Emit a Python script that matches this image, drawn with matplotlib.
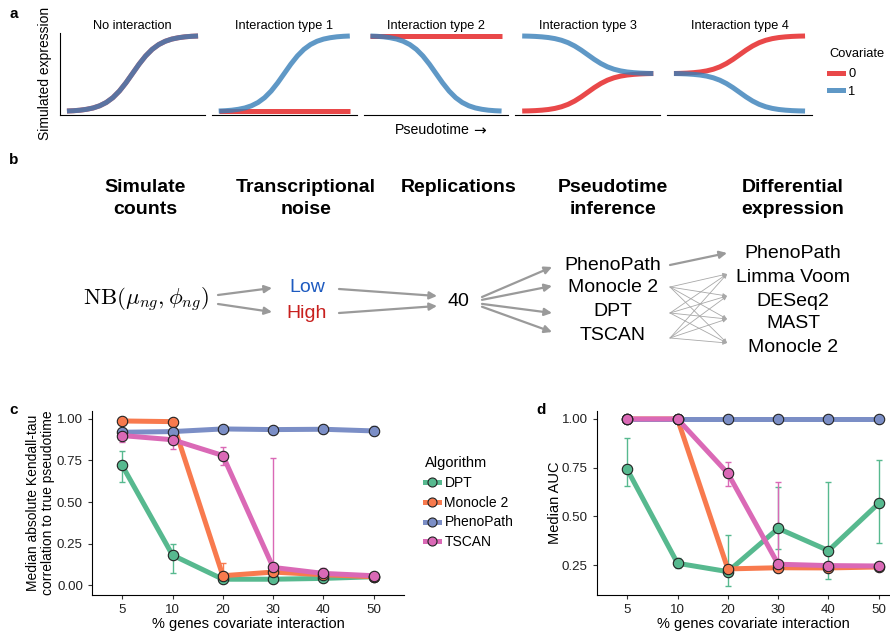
import matplotlib
matplotlib.use('Agg')
import matplotlib.pyplot as plt
from matplotlib.lines import Line2D

plt.rcParams['font.family'] = ['Liberation Sans', 'DejaVu Sans']

# ---- panel a: schematic expression curves ----
a_titles = ['No interaction', 'Interaction type 1', 'Interaction type 2',
            'Interaction type 3', 'Interaction type 4']
pseudotime = [0.0, 0.05, 0.1, 0.15, 0.2, 0.25, 0.3, 0.35, 0.4, 0.45, 0.5,
              0.55, 0.6, 0.65, 0.7, 0.75, 0.8, 0.85, 0.9, 0.95, 1.0]
rise = [0.0, 0.004, 0.011, 0.023, 0.041, 0.070, 0.114, 0.178, 0.266, 0.376, 0.5,
        0.624, 0.734, 0.822, 0.886, 0.930, 0.959, 0.977, 0.989, 0.996, 1.0]
# (start level, end level) for covariate 0 and covariate 1
cov0_levels = [(0, 1), (0, 0), (1, 1), (0, 0.5), (0.5, 1)]
cov1_levels = [(0, 1), (0, 1), (1, 0), (1, 0.5), (0.5, 0)]
cov_labels = ['0', '1']
cov_colors = ['#E41A1C', '#377EB8']

# ---- panel b: pipeline ----
b_headers = ['Simulate\ncounts', 'Transcriptional\nnoise', 'Replications',
             'Pseudotime\ninference', 'Differential\nexpression']
noise_levels = ['Low', 'High']
n_reps = 40
pt_methods = ['PhenoPath', 'Monocle 2', 'DPT', 'TSCAN']
de_methods = ['PhenoPath', 'Limma Voom', 'DESeq2', 'MAST', 'Monocle 2']

# ---- panels c, d: benchmark ----
pct = ['5', '10', '20', '30', '40', '50']
algos = ['DPT', 'Monocle 2', 'PhenoPath', 'TSCAN']
algo_colors = ['#57B98F', '#F87A4E', '#7B8EC6', '#DA69B6']

tau_med = [[0.72, 0.18, 0.035, 0.035, 0.04, 0.05],
           [0.988, 0.984, 0.056, 0.078, 0.062, 0.05],
           [0.92, 0.924, 0.94, 0.936, 0.938, 0.928],
           [0.90, 0.875, 0.78, 0.106, 0.07, 0.056]]
tau_lo = [[0.62, 0.07, 0.03, 0.03, 0.03, 0.04],
          [0.985, 0.98, 0.04, 0.06, 0.05, 0.04],
          [0.905, 0.91, 0.925, 0.925, 0.915, 0.905],
          [0.86, 0.82, 0.72, 0.03, 0.04, 0.035]]
tau_hi = [[0.81, 0.25, 0.045, 0.045, 0.05, 0.07],
          [0.99, 0.99, 0.13, 0.095, 0.075, 0.06],
          [0.935, 0.935, 0.955, 0.945, 0.965, 0.96],
          [0.93, 0.90, 0.83, 0.763, 0.10, 0.07]]

auc_med = [[0.741, 0.259, 0.216, 0.438, 0.324, 0.567],
           [1.0, 1.0, 0.23, 0.236, 0.235, 0.24],
           [1.0, 1.0, 1.0, 1.0, 1.0, 1.0],
           [1.0, 1.0, 0.721, 0.254, 0.247, 0.245]]
auc_lo = [[0.658, 0.233, 0.142, 0.331, 0.18, 0.365],
          [1.0, 1.0, 0.23, 0.236, 0.235, 0.24],
          [1.0, 1.0, 1.0, 1.0, 1.0, 1.0],
          [1.0, 1.0, 0.656, 0.245, 0.247, 0.245]]
auc_hi = [[0.902, 0.288, 0.406, 0.652, 0.678, 0.789],
          [1.0, 1.0, 0.23, 0.236, 0.235, 0.24],
          [1.0, 1.0, 1.0, 1.0, 1.0, 1.0],
          [1.0, 1.0, 0.78, 0.675, 0.247, 0.245]]

W, H = 890, 634
fig = plt.figure(figsize=(W / 100, H / 100), dpi=100)


def px_axes(left, top, right, bottom):
    return fig.add_axes([left / W, 1 - bottom / H, (right - left) / W, (bottom - top) / H])


# panel a
for i, title in enumerate(a_titles):
    x0 = 60 + i * 151.75
    ax = px_axes(x0, 33, x0 + 145, 115)
    for lv, col in zip([cov0_levels[i], cov1_levels[i]], cov_colors):
        s, e = lv
        ax.plot(pseudotime, [s + (e - s) * r for r in rise], color=col, alpha=0.8,
                lw=3.6, solid_capstyle='butt', solid_joinstyle='round')
    ax.set_xlim(-0.053, 1.053)
    ax.set_ylim(-0.053, 1.04)
    ax.set_xticks([])
    ax.set_yticks([])
    for sp in ['top', 'right']:
        ax.spines[sp].set_visible(False)
    if i > 0:
        ax.spines['left'].set_visible(False)
    ax.set_title(title, fontsize=9.2, pad=3)

fig.text(45 / W, 1 - 73 / H, 'Simulated expression', rotation=90, ha='center',
         va='center', fontsize=10)
fig.text(470 / W, 1 - 130 / H, 'Pseudotime', ha='right', va='center', fontsize=10.2)
fig.text(473 / W, 1 - 131 / H, '→', ha='left', va='center', fontsize=11,
         family='DejaVu Sans')
cov_handles = [Line2D([], [], color=c, alpha=0.8, lw=3.6) for c in cov_colors]
leg = fig.legend(cov_handles, cov_labels, title='Covariate', loc='upper left',
                 bbox_to_anchor=(829 / W, 1 - 48 / H), frameon=False, fontsize=9.3,
                 title_fontsize=9.3, handlelength=1.1, handletextpad=0.4,
                 labelspacing=0.4, borderpad=0, borderaxespad=0)
leg._legend_box.align = 'left'
leg._legend_box.sep = 6

# panel b
axb = fig.add_axes([0, 0, 1, 1])
axb.axis('off')
axb.set_xlim(0, W)
axb.set_ylim(H, 0)
axb.patch.set_alpha(0)

header_x = [145, 306, 459, 613, 793]
for x, t in zip(header_x, b_headers):
    axb.text(x, 179, t, ha='center', va='top', fontsize=14, fontweight='bold',
             linespacing=1.35)

axb.text(146, 300, r'$\mathrm{NB}(\mu_{ng},\phi_{ng})$', ha='center', va='center',
         fontsize=16.5, math_fontfamily='cm')
noise_y = [288, 313]
noise_colors = ['#1E5BC0', '#C8201E']
for y, t, c in zip(noise_y, noise_levels, noise_colors):
    axb.text(307, y, t, ha='center', va='center', fontsize=14, color=c)
axb.text(458, 301, str(n_reps), ha='center', va='center', fontsize=14)

pt_y = [265, 288, 312, 336]
for y, t in zip(pt_y, pt_methods):
    axb.text(613, y, t, ha='center', va='center', fontsize=14)
de_y = [253, 277, 301, 324, 348]
for y, t in zip(de_y, de_methods):
    axb.text(793, y, t, ha='center', va='center', fontsize=14)

thick = dict(arrowstyle='-|>', color='#9a9a9a', lw=1.6, mutation_scale=11,
             shrinkA=0, shrinkB=0)
thin = dict(arrowstyle='-|>', color='#a8a8a8', lw=0.6, mutation_scale=6,
            shrinkA=0, shrinkB=0)


def arrow(x1, y1, x2, y2, props):
    axb.annotate('', xy=(x2, y2), xytext=(x1, y1), arrowprops=props)


arrow(218, 295, 272, 288, thick)
arrow(218, 304, 272, 312, thick)
arrow(339, 289, 437, 296, thick)
arrow(339, 313, 437, 306, thick)
for y in [267, 286, 313, 332]:
    arrow(482, 297 + (y - 267) * 0.15, 552, y, thick)
arrow(670, 265, 727, 253, thick)
for ys in [287, 313, 338]:
    for yt in [274, 296, 319, 343]:
        arrow(670, ys, 727, yt, thin)

# panels c and d


def bench_panel(ax, med, lo, hi):
    xs = list(range(len(pct)))
    for m, l, h, c in zip(med, lo, hi, algo_colors):
        ax.errorbar(xs, m, yerr=[[a - b for a, b in zip(m, l)], [b - a for a, b in zip(m, h)]],
                    fmt='none', ecolor=c, elinewidth=1, capsize=2.5, capthick=1, zorder=2)
    for m, c in zip(med, algo_colors):
        ax.plot(xs, m, color=c, lw=3.6, zorder=3, solid_capstyle='butt')
    for m, c in zip(med, algo_colors):
        ax.plot(xs, m, 'o', ls='none', mfc=c, mec='#222222', mew=0.8, ms=7.5, zorder=4)
    ax.set_xticks(xs)
    ax.set_xticklabels(pct)
    ax.set_xlim(-0.6, 5.6)
    for sp in ['top', 'right']:
        ax.spines[sp].set_visible(False)
    ax.tick_params(labelsize=9.6, length=3, colors='#333333', labelcolor='#222222')
    ax.set_xlabel('% genes covariate interaction', fontsize=10.5, labelpad=1)


axc = px_axes(92, 411, 404, 595)
bench_panel(axc, tau_med, tau_lo, tau_hi)
axc.set_ylim(-0.06, 1.048)
axc.set_yticks([0, 0.25, 0.5, 0.75, 1.0])
axc.set_yticklabels(['0.00', '0.25', '0.50', '0.75', '1.00'])
axc.set_ylabel('Median absolute Kendall-tau\ncorrelation to true pseudotime',
               fontsize=10, linespacing=1.15)
axc.yaxis.set_label_coords(-0.117, 0.5)

axd = px_axes(597, 411, 909, 595)
bench_panel(axd, auc_med, auc_lo, auc_hi)
axd.set_ylim(0.096, 1.041)
axd.set_yticks([0.25, 0.5, 0.75, 1.0])
axd.set_yticklabels(['0.25', '0.50', '0.75', '1.00'])
axd.set_ylabel('Median AUC', fontsize=10.5)
axd.yaxis.set_label_coords(-0.113, 0.5)

algo_handles = [Line2D([], [], color=c, lw=3.6, marker='o', mfc=c, mec='#222222',
                       mew=0.8, ms=6.5) for c in algo_colors]
leg2 = fig.legend(algo_handles, algos, title='Algorithm', loc='upper left',
                  bbox_to_anchor=(425 / W, 1 - 456 / H), frameon=False, fontsize=10,
                  title_fontsize=10.5, handlelength=1.0, handletextpad=0.4,
                  labelspacing=0.42, borderpad=0, borderaxespad=0)
leg2._legend_box.align = 'left'

for lbl, x, y in [('a', 14, 14), ('b', 14, 160), ('c', 14, 410), ('d', 541, 410)]:
    fig.text(x / W, 1 - y / H, lbl, fontsize=11, fontweight='bold', ha='center', va='center')

fig.savefig('out.png', dpi=100)
